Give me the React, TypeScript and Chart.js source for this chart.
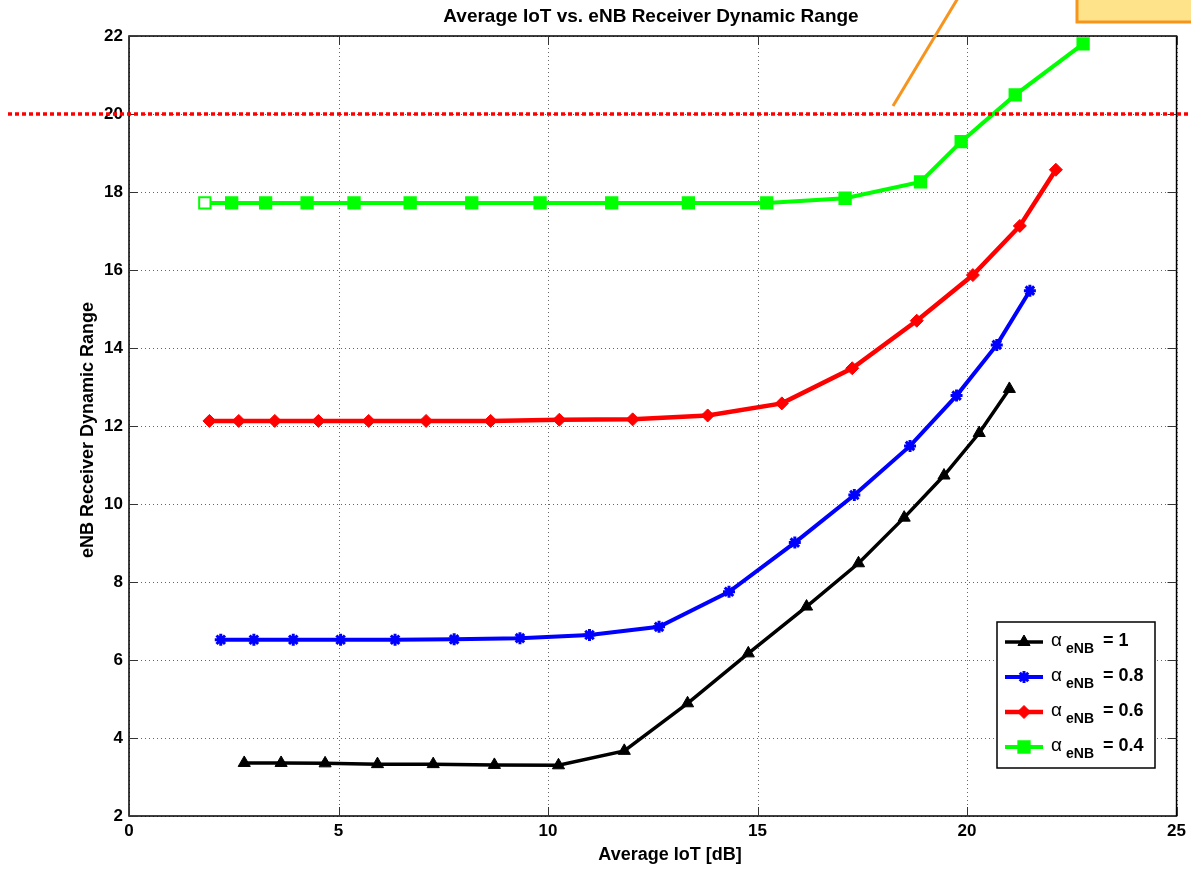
import React, { useEffect, useRef } from "react";
import { Chart, registerables } from "chart.js";
import { drawPoint } from "chart.js/helpers";

Chart.register(...registerables);

// Average IoT [dB] and receiver dynamic range for each alpha_eNB setting
const iotAlpha1 = [2.75, 3.63, 4.68, 5.93, 7.26, 8.72, 10.25, 11.82, 13.33, 14.78, 16.17, 17.41, 18.5, 19.45, 20.29, 21.01];
const rangeAlpha1 = [3.36, 3.36, 3.35, 3.33, 3.33, 3.31, 3.3, 3.67, 4.89, 6.17, 7.37, 8.48, 9.65, 10.73, 11.82, 12.95];

const iotAlpha08 = [2.19, 2.98, 3.92, 5.05, 6.35, 7.76, 9.33, 10.99, 12.65, 14.32, 15.89, 17.31, 18.64, 19.75, 20.71, 21.5];
const rangeAlpha08 = [6.52, 6.52, 6.52, 6.52, 6.52, 6.53, 6.56, 6.64, 6.85, 7.75, 9.01, 10.23, 11.49, 12.78, 14.08, 15.47];

const iotAlpha06 = [1.92, 2.62, 3.48, 4.52, 5.72, 7.09, 8.63, 10.27, 12.02, 13.81, 15.58, 17.26, 18.8, 20.14, 21.26, 22.12];
const rangeAlpha06 = [12.13, 12.13, 12.13, 12.13, 12.13, 12.13, 12.13, 12.16, 12.17, 12.27, 12.58, 13.48, 14.7, 15.87, 17.13, 18.57];

const iotAlpha04 = [1.81, 2.45, 3.26, 4.25, 5.37, 6.71, 8.18, 9.81, 11.52, 13.35, 15.22, 17.09, 18.89, 19.86, 21.15, 22.77];
const rangeAlpha04 = [17.72, 17.72, 17.72, 17.72, 17.72, 17.72, 17.72, 17.72, 17.72, 17.72, 17.72, 17.84, 18.26, 19.29, 20.49, 21.8];

const alphaLabels = ["1", "0.8", "0.6", "0.4"];
const xTicks = [0, 5, 10, 15, 20, 25];
const yTicks = [2, 4, 6, 8, 10, 12, 14, 16, 18, 20, 22];
const rangeLimit = 20;

const titleText = "Average IoT vs. eNB Receiver Dynamic Range";
const xTitle = "Average IoT [dB]";
const yTitle = "eNB Receiver Dynamic Range";

const FONT = '"Liberation Sans", Arial, Helvetica, sans-serif';

export default function App() {
  const ref = useRef<HTMLCanvasElement>(null);

  useEffect(() => {
    document.body.style.margin = "0";
    const canvas = ref.current;
    if (!canvas) return;

    const series = [
      { x: iotAlpha1, y: rangeAlpha1, color: "#000000", style: "triangle", radius: 7, pbw: 1, lw: 3.5 },
      { x: iotAlpha08, y: rangeAlpha08, color: "#0000ff", style: "star", radius: 6, pbw: 3, lw: 4 },
      { x: iotAlpha06, y: rangeAlpha06, color: "#ff0000", style: "rectRot", radius: 6.5, pbw: 1, lw: 4.5 },
      { x: iotAlpha04, y: rangeAlpha04, color: "#00ff00", style: "rect", radius: 8, pbw: 2, lw: 4 },
    ];

    const decorations = {
      id: "decorations",
      beforeDraw(chart: any) {
        const { ctx, width, height } = chart;
        ctx.save();
        ctx.fillStyle = "#ffffff";
        ctx.fillRect(0, 0, width, height);
        ctx.restore();
      },
      beforeDatasetsDraw(chart: any) {
        const { ctx, chartArea: a, scales } = chart;
        ctx.save();
        ctx.strokeStyle = "#666666";
        ctx.lineWidth = 1;
        ctx.setLineDash([1, 3]);
        xTicks.forEach((v) => {
          const px = Math.round(scales.x.getPixelForValue(v)) + 0.5;
          ctx.beginPath();
          ctx.moveTo(px, a.top);
          ctx.lineTo(px, a.bottom);
          ctx.stroke();
        });
        yTicks.forEach((v) => {
          const py = Math.round(scales.y.getPixelForValue(v)) + 0.5;
          ctx.beginPath();
          ctx.moveTo(a.left, py);
          ctx.lineTo(a.right, py);
          ctx.stroke();
        });
        ctx.restore();
      },
      afterDatasetsDraw(chart: any) {
        const { ctx, chartArea: a, scales, width } = chart;
        ctx.save();

        // frame and inward tick marks
        ctx.strokeStyle = "#000000";
        ctx.lineWidth = 1.5;
        ctx.strokeRect(a.left, a.top, a.right - a.left, a.bottom - a.top);
        ctx.lineWidth = 1;
        ctx.strokeStyle = "#333333";
        const tl = 9;
        xTicks.forEach((v) => {
          const px = Math.round(scales.x.getPixelForValue(v)) + 0.5;
          ctx.beginPath();
          ctx.moveTo(px, a.bottom);
          ctx.lineTo(px, a.bottom - tl);
          ctx.moveTo(px, a.top);
          ctx.lineTo(px, a.top + tl);
          ctx.stroke();
        });
        yTicks.forEach((v) => {
          const py = Math.round(scales.y.getPixelForValue(v)) + 0.5;
          ctx.beginPath();
          ctx.moveTo(a.left, py);
          ctx.lineTo(a.left + tl, py);
          ctx.moveTo(a.right, py);
          ctx.lineTo(a.right - tl, py);
          ctx.stroke();
        });

        // dotted limit line at 20
        const yl = scales.y.getPixelForValue(rangeLimit);
        ctx.strokeStyle = "#ff0000";
        ctx.lineWidth = 3.5;
        ctx.setLineDash([4, 3]);
        ctx.beginPath();
        ctx.moveTo(8, yl);
        ctx.lineTo(width, yl);
        ctx.stroke();
        ctx.setLineDash([]);

        // callout pointer and box
        ctx.strokeStyle = "#f7941d";
        ctx.lineWidth = 3;
        ctx.beginPath();
        ctx.moveTo(893, yl - 8);
        ctx.lineTo(958, -2);
        ctx.stroke();
        ctx.fillStyle = "#ffe38a";
        ctx.fillRect(1077, -5, 130, 27);
        ctx.strokeRect(1077, -5, 130, 27);

        // titles
        ctx.fillStyle = "#000000";
        ctx.font = `bold 19px ${FONT}`;
        ctx.textAlign = "center";
        ctx.textBaseline = "middle";
        ctx.fillText(titleText, 651, 17);
        ctx.font = `bold 18px ${FONT}`;
        ctx.fillText(xTitle, 670, 855);
        ctx.save();
        ctx.translate(88, 430);
        ctx.rotate(-Math.PI / 2);
        ctx.fillText(yTitle, 0, 0);
        ctx.restore();

        // legend
        const lx = 997, ly = 622, lw = 158, lh = 146;
        ctx.fillStyle = "#ffffff";
        ctx.fillRect(lx, ly, lw, lh);
        ctx.strokeStyle = "#000000";
        ctx.lineWidth = 1.5;
        ctx.strokeRect(lx, ly, lw, lh);
        series.forEach((s, i) => {
          const yy = 642 + i * 35;
          ctx.strokeStyle = s.color;
          ctx.fillStyle = s.color;
          ctx.lineWidth = s.lw;
          ctx.beginPath();
          ctx.moveTo(1005, yy);
          ctx.lineTo(1043, yy);
          ctx.stroke();
          ctx.lineWidth = s.pbw;
          drawPoint(ctx, { pointStyle: s.style, radius: s.radius, borderWidth: s.pbw, rotation: 0 } as any, 1024, yy);
          ctx.fillStyle = "#000000";
          ctx.textAlign = "left";
          ctx.textBaseline = "alphabetic";
          ctx.font = `19px ${FONT}`;
          ctx.fillText("\u03b1", 1051, yy + 4);
          ctx.font = `bold 14px ${FONT}`;
          ctx.fillText("eNB", 1066, yy + 11);
          ctx.font = `bold 18px ${FONT}`;
          ctx.fillText("= " + alphaLabels[i], 1103, yy + 4);
        });

        ctx.restore();
      },
    };

    const tickFont = { family: FONT, size: 17, weight: "bold" as const };

    const chart = new Chart(canvas, {
      type: "scatter",
      data: {
        datasets: series.map((s, i) => ({
          label: alphaLabels[i],
          data: s.x.map((x, j) => ({ x, y: s.y[j] })),
          showLine: true,
          borderColor: s.color,
          backgroundColor: s.color,
          borderWidth: s.lw,
          pointStyle: s.style as any,
          pointRadius: s.radius,
          pointBorderWidth: s.pbw,
          pointBackgroundColor: s.x.map((_, j) => (s.style === "rect" && j === 0 ? "#ffffff" : s.color)),
          pointBorderColor: s.color,
          tension: 0,
        })),
      },
      options: {
        responsive: false,
        animation: false,
        devicePixelRatio: 1,
        layout: { padding: { left: 0, top: 36, right: 14, bottom: 0 } },
        plugins: { legend: { display: false }, title: { display: false }, tooltip: { enabled: false } },
        scales: {
          x: {
            type: "linear",
            min: 0,
            max: 25,
            grid: { display: false, drawTicks: false, tickLength: 0 },
            border: { display: false },
            afterBuildTicks: (scale: any) => {
              scale.ticks = xTicks.map((v) => ({ value: v }));
            },
            afterFit: (scale: any) => {
              scale.height = 56;
            },
            ticks: { color: "#000000", padding: 5, font: tickFont },
          },
          y: {
            type: "linear",
            min: 2,
            max: 22,
            grid: { display: false, drawTicks: false, tickLength: 0 },
            border: { display: false },
            afterBuildTicks: (scale: any) => {
              scale.ticks = yTicks.map((v) => ({ value: v }));
            },
            afterFit: (scale: any) => {
              scale.width = 129;
            },
            ticks: { color: "#000000", padding: 6, font: tickFont },
          },
        },
      },
      plugins: [decorations],
    });

    return () => chart.destroy();
  }, []);

  return (
    <div style={{ width: 1191, height: 872 }}>
      <canvas ref={ref} width={1191} height={872} style={{ display: "block" }} />
    </div>
  );
}
